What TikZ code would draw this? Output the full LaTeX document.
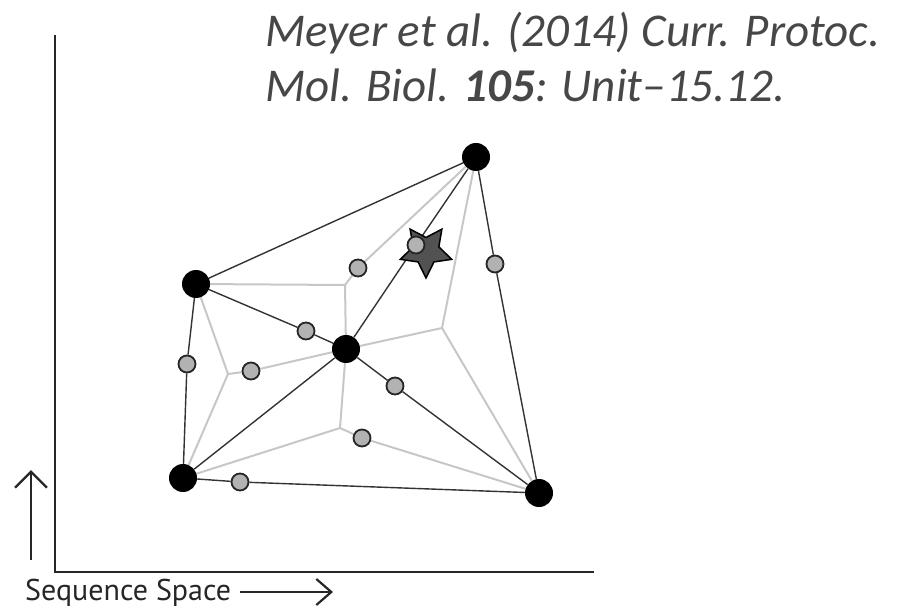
\documentclass[tikz,border=0pt]{standalone}
\usepackage{fontspec}
\usepackage{tikz}
\usetikzlibrary{shapes.geometric,arrows.meta,backgrounds}
\newfontfamily\citefont{Carlito}
\newfontfamily\axisfont{PT Sans}

\begin{document}
\begin{tikzpicture}[x=1pt,y=-1pt]
\tikzstyle{site} = [circle, fill=black, inner sep=0pt, minimum size=28pt]
\tikzstyle{probe} = [circle, draw=black!85, fill=black!30, line width=1.8pt, inner sep=0pt, minimum size=17pt]
\tikzstyle{edge} = [draw=black!80, line width=1.4pt]
\tikzstyle{cell} = [draw=black!22, line width=2pt]
\tikzstyle{axis} = [draw=black!85, line width=2.6pt]
\tikzstyle{cite} = [anchor=base west, inner sep=0pt, text=black!72, font=\fontsize{47}{54}\selectfont\citefont\itshape]
\useasboundingbox (0,0) rectangle (902,609);

% sampled sequences
\node[site] (s1) at (476,157) {};
\node[site] (s2) at (196,284) {};
\node[site] (s3) at (346,349) {};
\node[site] (s4) at (183,478) {};
\node[site] (s5) at (539,493) {};

% optimum
\node[star, star points=5, star point ratio=0.5, minimum size=27pt, inner sep=0pt,
      fill=black!68, draw=black, line width=1.5pt] (opt) at (426,251) {};

% new probes
\node[probe] (p1) at (358,268) {};
\node[probe] (p2) at (416,245) {};
\node[probe] (p3) at (495,264) {};
\node[probe] (p4) at (306,331) {};
\node[probe] (p5) at (187,364) {};
\node[probe] (p6) at (251,371) {};
\node[probe] (p7) at (395,386) {};
\node[probe] (p8) at (362,438) {};
\node[probe] (p9) at (240,482) {};

% cell corners
\coordinate (v1) at (345,285);
\coordinate (v2) at (442,328);
\coordinate (v3) at (228,374);
\coordinate (v4) at (340,428);

\begin{scope}[on background layer]
% cells
\draw[cell] (s2) -- (v1);
\draw[cell] (v1) -- (p1) -- (s1);
\draw[cell] (v1) -- (s3);
\draw[cell] (s1) -- (v2) -- (s3);
\draw[cell] (v2) -- (s5);
\draw[cell] (s2) -- (v3);
\draw[cell] (v3) -- (p6) -- (s3);
\draw[cell] (v3) -- (s4);
\draw[cell] (s4) -- (v4) -- (s3);
\draw[cell] (v4) -- (p8) -- (s5);
% triangulation
\draw[edge] (s1) -- (s2);
\draw[edge] (s1) -- (p2) -- (s3);
\draw[edge] (s1) -- (p3) -- (s5);
\draw[edge] (s2) -- (p4) -- (s3);
\draw[edge] (s2) -- (p5) -- (s4);
\draw[edge] (s3) -- (s4);
\draw[edge] (s3) -- (p7) -- (s5);
\draw[edge] (s4) -- (p9) -- (s5);
\end{scope}

% axes
\coordinate (ytop) at (55,35);
\coordinate (origin) at (55,572);
\coordinate (xend) at (594,572);
\draw[axis] (ytop) -- (origin) -- (xend);
\draw[axis, line width=2.4pt, -{Straight Barb[length=16pt,width=32pt]}] (31,560) -- (31,470);

\node[anchor=base west, inner sep=0pt, text=black!85, font=\fontsize{30}{34}\selectfont\axisfont] (xlabel) at (25,600) {Sequence Space};
\draw[axis, line width=2.2pt, -{Straight Barb[length=15pt,width=26pt]}] (240,592) -- (333,592);

\node[cite] (cite1) at (265,47) {Meyer et al. (2014) Curr. Protoc.};
\node[cite] (cite2) at (265,102) {Mol. Biol. \textbf{105}: Unit–15.12.};
\end{tikzpicture}
\end{document}
